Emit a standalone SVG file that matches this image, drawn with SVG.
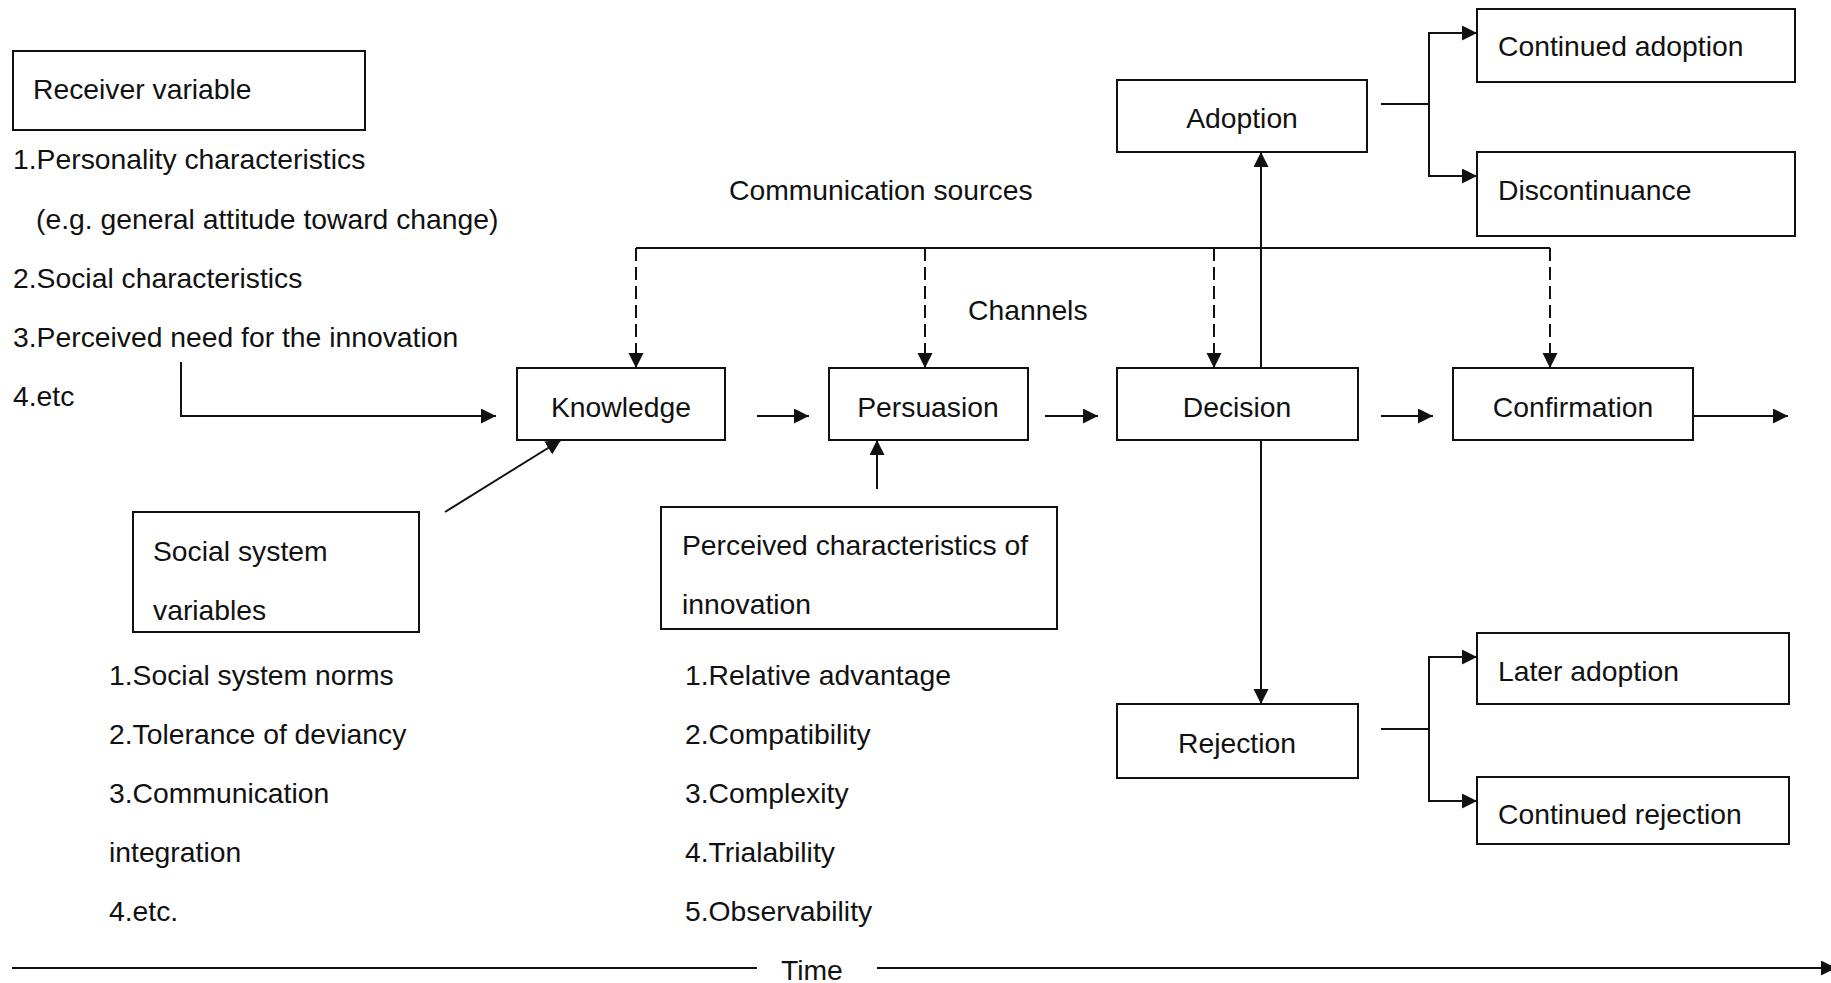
<svg xmlns="http://www.w3.org/2000/svg" width="1831" height="983" viewBox="0 0 1831 983">
<defs>
<style>
text{font-family:"Liberation Sans",Arial,sans-serif;font-size:28.3px;fill:#111}
.box{fill:#fff;stroke:#111;stroke-width:2}
.c{text-anchor:middle}
.ln{fill:none;stroke:#111;stroke-width:2}
.dash{fill:none;stroke:#111;stroke-width:2;stroke-dasharray:13 6}
</style>
<marker id="ah" markerUnits="userSpaceOnUse" markerWidth="17" markerHeight="17" refX="15" refY="7.5" orient="auto">
<path d="M0,0 L15,7.5 L0,15 z" fill="#111"/>
</marker>
</defs>
<rect width="1831" height="983" fill="#fff"/>

<g id="receiver">
<rect class="box" x="13" y="51" width="352" height="79"/>
<text x="33" y="99">Receiver variable</text>
<text x="13" y="169">1.Personality characteristics</text>
<text x="36" y="229">(e.g. general attitude toward change)</text>
<text x="13" y="288">2.Social characteristics</text>
<text x="13" y="347">3.Perceived need for the innovation</text>
<text x="13" y="406">4.etc</text>
</g>

<g id="comm-labels">
<text x="729" y="200">Communication sources</text>
<text x="968" y="320">Channels</text>
</g>

<g id="knowledge">
<rect class="box" x="517" y="368" width="208" height="72"/>
<text class="c" x="621" y="417">Knowledge</text>
</g>
<g id="persuasion">
<rect class="box" x="829" y="368" width="199" height="72"/>
<text class="c" x="928" y="417">Persuasion</text>
</g>
<g id="decision">
<rect class="box" x="1117" y="368" width="241" height="72"/>
<text class="c" x="1237" y="417">Decision</text>
</g>
<g id="confirmation">
<rect class="box" x="1453" y="368" width="240" height="72"/>
<text class="c" x="1573" y="417">Confirmation</text>
</g>
<g id="adoption">
<rect class="box" x="1117" y="80" width="250" height="72"/>
<text class="c" x="1242" y="128">Adoption</text>
</g>
<g id="continued-adoption">
<rect class="box" x="1477" y="9" width="318" height="73"/>
<text x="1498" y="56">Continued adoption</text>
</g>
<g id="discontinuance">
<rect class="box" x="1477" y="152" width="318" height="84"/>
<text x="1498" y="200">Discontinuance</text>
</g>
<g id="rejection">
<rect class="box" x="1117" y="704" width="241" height="74"/>
<text class="c" x="1237" y="753">Rejection</text>
</g>
<g id="later-adoption">
<rect class="box" x="1477" y="633" width="312" height="71"/>
<text x="1498" y="681">Later adoption</text>
</g>
<g id="continued-rejection">
<rect class="box" x="1477" y="777" width="312" height="67"/>
<text x="1498" y="824">Continued rejection</text>
</g>

<g id="social-system">
<rect class="box" x="133" y="512" width="286" height="120"/>
<text x="153" y="561">Social system</text>
<text x="153" y="620">variables</text>
<text x="109" y="685">1.Social system norms</text>
<text x="109" y="744">2.Tolerance of deviancy</text>
<text x="109" y="803">3.Communication</text>
<text x="109" y="862">integration</text>
<text x="109" y="921">4.etc.</text>
</g>

<g id="perceived-characteristics">
<rect class="box" x="661" y="507" width="396" height="122"/>
<text x="682" y="555">Perceived characteristics of</text>
<text x="682" y="614">innovation</text>
<text x="685" y="685">1.Relative advantage</text>
<text x="685" y="744">2.Compatibility</text>
<text x="685" y="803">3.Complexity</text>
<text x="685" y="862">4.Trialability</text>
<text x="685" y="921">5.Observability</text>
</g>

<g id="time">
<text x="781" y="980">Time</text>
</g>

<g id="connectors">
<path class="ln" d="M181,362 V416 H496" marker-end="url(#ah)"/>
<path class="ln" d="M445,512 L561,440" marker-end="url(#ah)"/>
<path class="ln" d="M757,416 H809" marker-end="url(#ah)"/>
<path class="ln" d="M1045,416 H1098" marker-end="url(#ah)"/>
<path class="ln" d="M1381,416 H1433" marker-end="url(#ah)"/>
<path class="ln" d="M1693,416 H1788" marker-end="url(#ah)"/>
<path class="ln" d="M877,489 V440" marker-end="url(#ah)"/>
<path class="ln" d="M636,248 H1550"/>
<path class="dash" d="M636,248 V368" marker-end="url(#ah)"/>
<path class="dash" d="M925,248 V368" marker-end="url(#ah)"/>
<path class="dash" d="M1214,248 V368" marker-end="url(#ah)"/>
<path class="dash" d="M1550,248 V368" marker-end="url(#ah)"/>
<path class="ln" d="M1261,368 V152" marker-end="url(#ah)"/>
<path class="ln" d="M1261,440 V704" marker-end="url(#ah)"/>
<path class="ln" d="M1381,104 H1429"/>
<path class="ln" d="M1429,176 V33 H1477" marker-end="url(#ah)"/>
<path class="ln" d="M1429,104 V176 H1477" marker-end="url(#ah)"/>
<path class="ln" d="M1381,729 H1429"/>
<path class="ln" d="M1429,729 V657 H1477" marker-end="url(#ah)"/>
<path class="ln" d="M1429,729 V801 H1477" marker-end="url(#ah)"/>
<path class="ln" d="M12,968 H757"/>
<path class="ln" d="M877,968 H1836" marker-end="url(#ah)"/>
</g>
</svg>
